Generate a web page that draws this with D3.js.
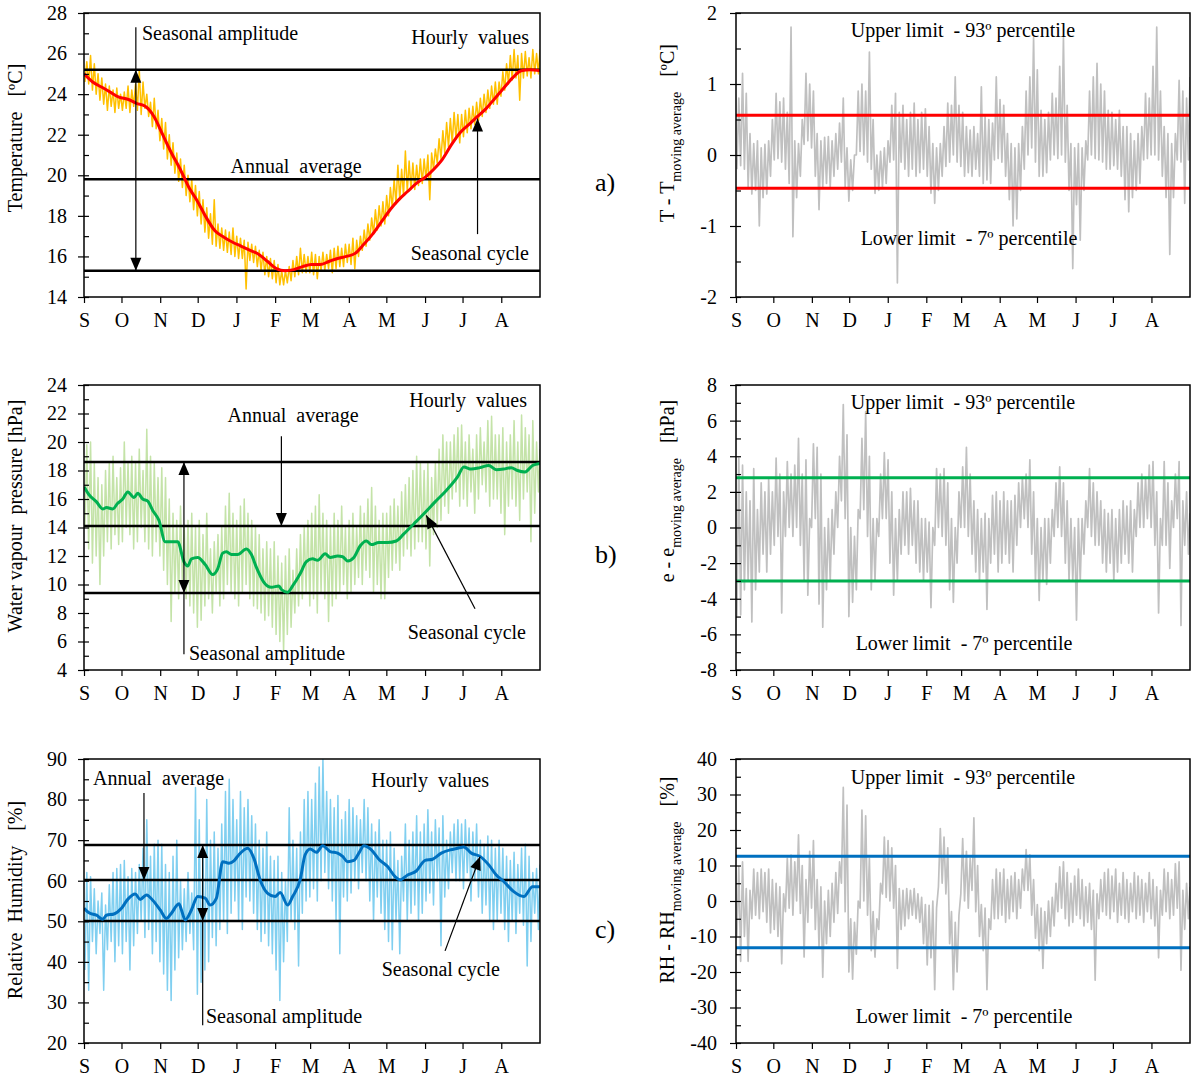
<!DOCTYPE html>
<html>
<head>
<meta charset="utf-8">
<script src="https://cdn.jsdelivr.net/npm/d3@7"></script>
<style>
  body { margin: 0; background: #fff; }
  svg { display: block; font-family: "Liberation Serif", "Times New Roman", serif; }
  text { white-space: pre; }
</style>
</head>
<body>
<svg id="chart" width="1192" height="1081"></svg>
<script>
// ---------------- data ----------------
// Year runs from 1 September to 31 August; hourly records are summarised
// as the low / high of each 3-day period (122 periods).
const monthLabels = ["S", "O", "N", "D", "J", "F", "M", "A", "M", "J", "J", "A"];
const periodDays = 3;

// Air temperature [ºC]
const tempHourlyLow = [
  24.6,24.5,24.2,24.0,23.7,23.5,23.2,23.4,23.1,23.3,
  23.2,23.3,23.1,23.4,23.2,23.0,23.3,22.9,22.4,22.3,
  21.7,21.3,20.8,20.5,20.1,19.7,19.4,19.0,18.7,18.3,
  18.0,17.6,17.2,16.9,16.6,16.5,16.4,16.3,16.2,16.1,16.0,
  15.9,15.9,14.4,15.8,15.7,15.5,15.3,15.1,15.0,14.9,
  14.7,14.6,14.6,14.7,14.8,15.0,15.1,15.2,15.2,
  15.2,15.1,14.9,15.3,15.3,15.4,15.2,15.4,15.5,15.5,
  15.7,15.6,15.4,16.0,16.3,16.5,16.8,17.1,17.3,17.5,
  17.6,18.0,18.4,18.6,18.8,19.0,19.2,19.3,19.3,19.5,
  19.6,19.8,18.8,20.3,20.6,20.8,21.1,21.4,21.6,21.8,
  21.6,21.9,22.1,22.3,22.5,22.7,22.9,23.1,23.3,23.5,
  23.5,23.9,24.2,24.5,24.7,24.8,23.7,24.8,24.9,24.8,25.0,25.0
];
const tempHourlyHigh = [
  25.6,25.9,25.5,25.0,24.8,24.5,24.4,24.2,24.3,24.0,
  24.1,24.4,24.2,24.5,25.2,24.6,24.0,23.6,23.8,23.2,
  22.8,22.6,22.0,21.6,21.1,20.8,20.5,20.0,19.8,19.5,
  19.2,18.8,18.4,18.1,18.8,17.6,17.4,17.3,17.2,17.4,17.0,
  16.9,16.8,16.7,16.6,16.5,16.3,16.2,16.0,15.9,15.8,
  15.6,15.3,15.3,15.5,15.8,16.0,16.4,16.1,16.0,
  16.2,16.1,16.0,16.2,16.1,16.3,16.4,16.5,16.4,16.6,
  16.6,16.9,16.8,17.0,17.3,17.6,17.9,18.3,18.5,18.7,
  19.0,19.4,19.8,20.5,20.3,21.2,20.7,20.6,20.5,20.8,
  20.8,21.0,21.1,21.3,21.8,22.2,22.6,22.8,23.1,23.0,
  23.0,23.2,23.3,23.4,23.6,23.8,24.0,24.2,24.4,24.6,
  24.6,25.1,25.5,25.9,26.2,25.9,26.0,26.1,25.8,26.2,26.0,26.2
];
// seasonal cycle: [day since 1 Sep, value]
const tempCycle = [
  [0,25.0],[7,24.6],[14,24.35],[21,24.1],[28,23.85],[35,23.75],[42,23.55],[49,23.4],
  [56,22.9],[63,22.0],[70,21.1],[77,20.3],[84,19.4],[91,18.7],[98,17.9],[105,17.25],
  [112,16.95],[119,16.7],[126,16.5],[133,16.3],[140,16.1],[147,15.75],[154,15.4],[161,15.3],
  [168,15.35],[175,15.5],[182,15.6],[189,15.6],[196,15.75],[203,15.9],[210,16.0],[217,16.15],
  [224,16.6],[231,17.1],[238,17.7],[245,18.3],[252,18.8],[259,19.2],[266,19.6],[273,19.9],
  [280,20.3],[287,20.8],[294,21.5],[301,22.1],[308,22.5],[315,22.9],[322,23.3],[329,23.8],
  [336,24.3],[343,24.8],[350,25.15],[357,25.2],[365,25.15]
];
const tempLevels = [25.2, 19.8, 15.3];      // seasonal maximum, annual average, seasonal minimum
const tempDevLow = [
  -0.2,-0.15,-0.2,-0.45,-0.55,-0.5,-1.0,-0.6,-0.55,-0.3,
  -0.07,-0.05,-0.1,-0.2,-0.4,-1.15,-0.6,-0.3,0.15,0.2,
  0.1,-0.3,-0.77,-0.45,-0.4,-0.45,-0.3,-0.2,-0.1,-0.45,
  -0.65,-0.5,0.0,0.05,0.0,-0.1,-0.2,-0.54,-0.5,-0.45,-0.4,
  -0.1,-0.07,-1.8,-0.1,-0.2,-0.3,-0.2,-0.3,-0.25,-0.2,
  -0.3,-0.54,-0.68,-0.5,-0.3,-0.16,-0.1,0.0,-0.1,
  -0.16,-0.3,-0.25,-0.3,-0.2,-0.3,-0.4,-0.35,-0.4,-0.07,
  -0.05,-0.1,-0.3,-0.63,-1.0,-0.9,-0.5,-0.2,0.0,0.1,
  -0.1,-0.3,-0.3,-0.25,-0.07,0.0,-0.05,0.0,-0.1,-0.5,
  -1.6,-0.7,-1.2,-0.5,-0.07,0.0,-0.05,-0.07,-0.1,-0.2,
  -0.2,-0.15,-0.2,-0.3,-0.63,-0.8,-0.6,-0.5,-0.4,-0.07,
  -0.05,0.0,0.0,-0.07,-0.3,-0.6,-1.4,-0.6,-0.07,-0.1,-0.68,-0.07
];
const tempDevHigh = [
  0.8,1.15,0.87,0.3,0.16,0.2,0.1,0.15,0.2,0.5,
  0.87,0.75,0.8,0.6,1.8,0.2,0.16,0.5,1.15,1.0,
  0.9,0.3,0.2,0.25,0.26,0.2,0.3,0.45,0.8,0.1,
  -0.07,0.0,0.9,1.0,0.9,1.45,0.5,0.0,0.05,0.1,0.2,
  0.7,0.87,0.6,0.7,0.5,0.6,0.73,0.5,0.6,0.65,
  0.4,0.16,0.1,0.16,0.4,0.73,0.7,1.1,0.7,
  0.6,0.4,0.35,0.4,0.3,0.96,0.54,0.5,0.45,1.1,
  0.78,0.7,0.3,0.16,0.1,0.16,0.4,0.9,1.1,1.65,
  1.2,0.63,0.5,0.6,0.87,0.8,1.25,1.65,0.7,0.16,
  0.1,0.16,0.1,0.2,0.9,1.1,1.29,1.0,0.9,0.63,
  0.6,0.5,0.63,0.4,0.4,0.3,0.2,0.3,0.4,0.87,
  0.8,1.25,1.8,0.9,0.4,0.3,0.16,0.3,1.05,0.9,0.8,1.1
];
const tempLimits = [0.56, -0.47];            // 93º and 7º percentiles

// Water vapour pressure [hPa]
const vapHourlyLow = [
  14.0,12.5,11.5,12.0,10.0,12.0,13.0,12.5,13.5,12.8,
  13.0,14.0,13.5,12.5,13.0,14.0,13.0,12.5,12.0,13.0,
  12.0,11.0,10.0,7.4,9.5,9.0,10.0,9.0,8.5,8.0,
  7.0,7.5,8.5,9.0,8.0,9.5,8.5,9.0,10.0,9.5,9.0,
  8.5,9.5,10.0,9.0,8.5,8.3,8.0,7.5,7.8,7.0,
  6.5,6.0,5.3,6.5,7.0,8.0,8.5,9.0,9.5,
  8.5,9.0,8.0,9.5,9.0,7.4,8.5,9.0,9.5,10.0,
  9.0,9.5,10.0,10.5,10.0,11.0,10.5,9.5,10.0,9.0,
  9.0,10.5,11.0,11.5,11.0,12.0,12.5,12.0,12.5,13.0,
  13.0,12.5,11.3,13.5,14.0,14.5,15.5,15.0,16.0,16.5,
  15.5,16.0,15.5,16.5,15.0,16.0,17.0,16.5,15.5,16.0,
  16.0,15.0,13.5,15.5,16.0,15.5,14.5,16.0,16.5,13.0,15.0,16.5
];
const vapHourlyHigh = [
  19.8,20.0,18.5,17.5,17.0,18.0,18.5,19.0,17.5,18.2,
  20.0,18.5,19.0,18.5,19.5,18.0,20.9,19.0,18.5,17.5,
  18.2,17.5,16.0,15.0,14.5,15.5,14.0,14.5,15.0,14.0,
  14.5,13.5,15.0,12.5,13.0,13.5,14.0,15.5,16.4,15.0,14.5,
  15.5,16.0,15.0,14.5,14.0,13.5,12.5,13.0,12.5,13.0,
  12.0,11.5,12.0,12.5,11.0,12.5,13.5,14.0,14.5,
  15.0,15.5,16.3,15.0,14.5,14.0,15.0,14.5,15.5,14.0,
  14.5,15.0,14.0,15.5,15.0,16.0,16.8,15.5,14.5,15.0,
  15.0,15.5,16.0,15.5,16.5,17.0,17.5,18.0,19.0,18.5,
  18.0,18.5,17.5,18.5,19.5,20.5,20.0,20.0,20.5,21.0,
  21.2,20.0,20.5,19.5,20.5,21.0,20.0,21.5,21.8,20.5,
  20.5,21.0,20.0,20.5,21.5,20.0,21.9,21.0,20.5,21.5,20.0,19.5
];
const vapCycle = [
  [0,16.85],[4,16.3],[10,15.8],[15,15.3],[18,15.4],[23,15.3],[27,15.7],[31,16.0],[35,16.5],
  [40,16.1],[43,16.4],[47,16.0],[51,15.85],[55,15.2],[60,14.5],[65,13.0],[70,13.0],[75,13.0],
  [80,11.6],[83,11.3],[86,11.8],[91,11.9],[97,11.4],[103,10.7],[107,11.1],[111,12.2],[114,12.3],
  [118,12.1],[123,12.1],[130,12.5],[134,12.1],[138,11.2],[144,10.15],[150,9.8],[156,9.9],[158,9.65],
  [163,9.45],[167,9.9],[173,10.75],[178,11.6],[183,11.8],[187,11.7],[193,12.15],[197,11.9],[203,12.0],
  [207,11.95],[211,11.65],[216,11.9],[221,12.7],[226,13.05],[230,12.8],[236,12.95],[243,12.95],[250,13.05],
  [256,13.55],[264,14.25],[273,15.05],[281,15.8],[290,16.6],[299,17.55],[304,18.25],[310,18.1],[317,18.2],
  [324,18.35],[330,18.05],[336,18.1],[342,18.2],[347,18.0],[353,17.9],[359,18.35],[365,18.5]
];
const vapLevels = [18.6, 14.1, 9.4];
const vapDevLow = [
  -5.0,-4.9,-3.5,-3.0,-5.3,-3.5,-2.5,-1.5,-2.5,-1.5,
  -1.0,-0.5,-4.8,-0.5,0.0,-0.5,0.0,-1.0,-3.0,-3.8,
  0.0,0.5,-4.3,-5.6,-3.5,-3.0,-1.5,0.0,1.5,0.5,
  -5.0,-4.2,-3.5,0.5,1.0,-0.5,-3.5,-3.0,-0.5,0.5,0.5,
  -2.0,-3.8,-3.0,-1.5,-1.0,-1.5,-1.0,-2.0,-2.5,-3.0,
  -2.5,-4.5,-1.0,0.0,-0.5,-1.0,-3.5,-4.2,-2.0,
  0.0,0.0,-0.5,-1.5,-2.5,-3.0,-2.5,-4.6,-2.0,-1.5,
  -2.5,-2.0,-1.5,-2.0,-2.5,-1.0,0.0,0.5,0.0,-1.5,
  -3.0,-4.1,-3.0,-3.2,-2.0,-0.5,0.0,-0.5,-2.0,-3.0,
  -3.0,-5.2,-3.0,-1.5,0.0,-0.5,-1.0,-1.0,-2.0,-2.5,
  -2.0,-3.0,-2.5,-2.0,-1.5,-2.0,-2.5,-0.5,0.0,0.0,
  0.5,0.0,-1.0,-4.8,-1.0,-1.0,-2.3,0.0,0.5,-5.5,-1.0,-1.5
];
const vapDevHigh = [
  3.9,3.5,2.0,1.5,3.3,1.0,2.5,2.0,2.7,2.0,
  3.9,3.0,2.0,3.7,3.0,3.5,5.0,3.0,3.8,0.5,
  4.7,4.5,3.0,0.0,0.5,1.0,2.0,4.0,6.9,5.2,
  0.0,-0.5,1.0,5.0,6.5,4.0,0.5,0.5,3.0,4.2,3.8,
  2.0,0.5,1.0,2.0,2.0,2.2,1.5,1.5,0.5,0.5,
  0.3,0.0,3.3,3.0,3.3,2.5,0.5,0.0,2.0,
  3.4,4.5,3.0,1.5,1.0,0.5,0.8,0.5,1.8,2.0,
  1.5,2.0,1.5,1.5,1.8,2.5,2.8,3.0,3.8,2.0,
  0.5,0.0,0.5,0.5,1.0,2.5,3.4,2.5,1.5,0.5,
  0.0,0.5,0.5,1.5,3.3,2.5,2.0,1.5,1.0,0.8,
  1.0,0.5,1.0,1.5,1.2,1.5,1.0,2.5,3.0,2.8,
  3.5,3.7,2.0,0.5,3.7,2.5,1.5,3.0,3.7,1.5,2.0,0.8
];
const vapLimits = [2.8, -3.0];

// Relative humidity [%]
const rhHourlyLow = [
  38,33,45,42,47,33,43,45,40,44,
  42,45,38,44,47,50,46,48,42,45,
  40,37,33,30.5,38,41,43,45,47,43,
  32,35,38,40,46,44,48,50,47,52,55,
  50,48,56,55,52,48,45,47,44,42,
  38,30.5,40,45,50,48,39,52,55,
  56,58,55,60,62,58,55,50,42,56,
  55,57,60,58,62,60,55,50,56,52,
  48,45,43,50,42,55,50,52,54,50,
  52,55,57,54,60,44,56,58,62,60,
  60,58,62,55,60,56,52,54,50,48,
  50,52,48,45,50,47,52,49,39,45,52,48
];
const rhHourlyHigh = [
  62,61,58,55,57,54,59,62,63,64,
  65,61,63,62,64,68,75,66,69,70,
  69,64,62,66,70,60,58,62,57,83,
  75,66,80,70,72,68,74,82,85,80,75,
  82,78,80,76,74,70,68,72,66,65,
  66,62,60,78,70,68,72,80,82,
  80,84,88,90,82,80,78,81,75,77,
  80,78,76,75,80,78,74,72,75,70,
  70,72,68,65,66,74,70,72,76,72,
  74,77.5,72,75,73,76,70,72,74,75,
  74,75,73,72,74,70,69,71,70,68,
  70,68,66,65,67,64,68,69,66,62,63,64
];
const rhCycle = [
  [0,53.2],[4,52.1],[10,51.5],[15,50.5],[18,51.5],[24,51.8],[30,53.2],[35,55.4],[41,56.7],
  [45,55.4],[50,56.5],[55,55.2],[61,52.8],[66,50.7],[70,52.0],[76,54.3],[78,52.8],[81,50.3],
  [86,52.8],[91,56.1],[97,55.7],[101,54.0],[106,55.7],[111,64.7],[116,64.3],[120,64.9],[124,66.4],
  [131,68.0],[136,65.5],[141,60.2],[147,56.9],[153,56.1],[157,57.1],[163,54.0],[167,56.1],[173,60.2],
  [177,66.4],[181,67.8],[186,67.0],[191,68.6],[197,67.2],[203,66.8],[207,66.0],[211,64.7],[216,65.0],
  [220,66.8],[224,68.6],[230,67.6],[236,65.3],[243,63.5],[249,61.0],[253,60.2],[259,61.4],[266,62.4],
  [273,65.0],[279,65.3],[286,66.8],[293,67.6],[299,68.0],[304,68.3],[310,66.8],[317,66.0],[324,63.9],
  [330,61.4],[336,59.8],[344,57.3],[352,56.1],[359,58.5],[365,58.5]
];
const rhLevels = [68.8, 60.2, 50.1];
const rhDevLow = [
  -10,-17,-10,-17,-5,-4,-5,-3,-6,-9,
  -8,-10,-17.7,-3,-2,-4,0,-3.5,-15.8,-6,
  -2,-8,-13,-21.5,-12,-10,-6,-3.5,5,-3,
  -20,-22,-15,-2,0,-4,-14,-15.8,-8,2,1,
  0,-2,-19,-8,-7,-5,-4,-5,-6,-12,
  -18,-16,-25,4,5,2,-12,-25,-20,
  2,0,-2,3,-3,-10,-14,-25,-8,-5,
  -5,-4,-6,-5,-3,-5,-2,3,3,-4,
  -10.5,-14,-19,-12,-10,-7,-3,-2,-5,-7,
  -6,-4,-5,-7,-6,-8,-22.3,-5,-3,-4,
  -5,-3,-6,-4,-5,-6,-3,-5,-4,-6,
  -3,-5,-7,-16,-4,-3,-5,-4,-2,-19.5,-8,-5
];
const rhDevHigh = [
  9.6,11,3.5,3,9,8,9,8,9,6,
  5,4,2,12,12.9,11,18.6,10,6,14,
  17,6,4,0,3,5,8,11,32,27,
  -5,-6,0,25.6,24,12,-3,-5,5,18,17,
  15,10,3.5,3,3.5,3,3.5,2,1,-1,
  -1.2,0,-2,20.4,18,15,-3,-6,-4,
  17.6,14,12,23.4,10,-1,-2,-5,6,9,
  8,9,6,7,8,6,9,14.5,13,6,
  -1,-2,-3,0,1,5,9.6,11,8,5,
  7,9,6,4,5,3,2,6,8,9,
  7,9,5,8,6,5,8,7,6,5,
  8,6,4,3,9,8,6,10.5,11,3,5,4
];
const rhLimits = [12.6, -13.2];

// ---------------- drawing ----------------
const svg = d3.select("#chart");
const start = new Date(Date.UTC(2010, 8, 1));
const end = new Date(Date.UTC(2011, 8, 1));
const dayToDate = d => new Date(start.getTime() + d * 864e5);
const monthTicks = d3.utcMonth.range(start, end);
let clipCount = 0;

function panel(x0, x1, y0, y1, domain, major, minor, padding) {
  const x = d3.scaleUtc().domain([start, end]).range([x0, x1]);
  const y = d3.scaleLinear().domain(domain).range([y1, y0]);
  const id = "plotclip" + (clipCount++);
  svg.append("clipPath").attr("id", id)
    .append("rect").attr("x", x0).attr("y", y0).attr("width", x1 - x0).attr("height", y1 - y0);
  const g = svg.append("g");
  const plot = g.append("g").attr("clip-path", `url(#${id})`);
  return { g, plot, x, y, x0, x1, y0, y1, domain, major, minor, padding };
}

function axes(p) {
  const majors = d3.range(p.domain[0], p.domain[1] + p.major / 2, p.major);
  const minors = d3.range(p.domain[0], p.domain[1] + p.minor / 2, p.minor);
  const style = sel => {
    sel.attr("font-family", null).attr("font-size", 20);
    sel.select(".domain").remove();
    sel.selectAll(".tick line").attr("stroke", "#000").attr("stroke-width", 1.2);
    sel.selectAll(".tick text").attr("fill", "#000");
  };
  p.g.append("g").attr("transform", `translate(${p.x0},0)`)
    .call(d3.axisLeft(p.y).tickValues(majors).tickSize(6).tickSizeOuter(0)
      .tickPadding(p.padding).tickFormat(d => String(+d.toFixed(2))))
    .call(style);
  p.g.append("g").attr("transform", `translate(${p.x0},0)`)
    .call(d3.axisRight(p.y).tickValues(minors).tickSize(5).tickSizeOuter(0).tickFormat(""))
    .call(style);
  p.g.append("g").attr("transform", `translate(0,${p.y1})`)
    .call(d3.axisBottom(p.x).tickValues(monthTicks).tickSize(6).tickSizeOuter(0)
      .tickPadding(10).tickFormat((d, i) => monthLabels[i]))
    .call(style);
  p.g.append("rect")
    .attr("x", p.x0).attr("y", p.y0).attr("width", p.x1 - p.x0).attr("height", p.y1 - p.y0)
    .attr("fill", "none").attr("stroke", "#000").attr("stroke-width", 1.5);
}

// low/high of each period joined into one continuous hourly-style trace
function zigzag(low, high) {
  const pts = [];
  low.forEach((v, i) => {
    pts.push([Math.min(365, i * periodDays + 0.75), v]);
    pts.push([Math.min(365, i * periodDays + 2.25), high[i]]);
  });
  return pts;
}

function trace(p, pts, color, width, curve) {
  const line = d3.line().x(d => p.x(dayToDate(d[0]))).y(d => p.y(d[1]))
    .curve(curve || d3.curveLinear);
  p.plot.append("path")
    .attr("d", line(pts))
    .attr("fill", "none").attr("stroke", color).attr("stroke-width", width)
    .attr("stroke-linejoin", "round");
}

function hline(p, v, color, width) {
  p.plot.append("line")
    .attr("x1", p.x0).attr("x2", p.x1).attr("y1", p.y(v)).attr("y2", p.y(v))
    .attr("stroke", color).attr("stroke-width", width);
}

function head(g, tx, ty, fx, fy) {
  const a = Math.atan2(ty - fy, tx - fx), L = 13, W = 5.5;
  const bx = tx - L * Math.cos(a), by = ty - L * Math.sin(a);
  const px = -Math.sin(a) * W, py = Math.cos(a) * W;
  g.append("path")
    .attr("d", `M${tx},${ty}L${bx + px},${by + py}L${bx - px},${by - py}Z`)
    .attr("fill", "#000");
}

// arrow between two [day, value] points, head at the second point
function arrow(p, from, to) {
  const fx = p.x(dayToDate(from[0])), fy = p.y(from[1]);
  const tx = p.x(dayToDate(to[0])), ty = p.y(to[1]);
  p.g.append("line").attr("x1", fx).attr("y1", fy).attr("x2", tx).attr("y2", ty)
    .attr("stroke", "#000").attr("stroke-width", 1.2);
  head(p.g, tx, ty, fx, fy);
}

// vertical double-headed amplitude arrow
function amplitude(p, day, top, bottom, upper, lower) {
  const x = p.x(dayToDate(day));
  p.g.append("line").attr("x1", x).attr("x2", x).attr("y1", p.y(top)).attr("y2", p.y(bottom))
    .attr("stroke", "#000").attr("stroke-width", 1.2);
  head(p.g, x, p.y(upper), x, p.y(upper) + 20);
  head(p.g, x, p.y(lower), x, p.y(lower) - 20);
}

function label(x, y, str, anchor, size) {
  svg.append("text").attr("x", x).attr("y", y).attr("text-anchor", anchor || "start")
    .attr("font-size", size || 20).attr("fill", "#000").text(str);
}

function yTitle(x, y, main) {
  svg.append("text").attr("transform", `translate(${x},${y}) rotate(-90)`)
    .attr("text-anchor", "middle").attr("font-size", 20).attr("fill", "#000").text(main);
}

function yTitleSub(x, y, a, sub, b) {
  const t = svg.append("text").attr("transform", `translate(${x},${y}) rotate(-90)`)
    .attr("text-anchor", "middle").attr("font-size", 20).attr("fill", "#000");
  t.append("tspan").text(a);
  t.append("tspan").attr("font-size", 14).attr("dy", 7).text(sub);
  t.append("tspan").attr("dy", -7).text(b);
}

const LX0 = 84, LX1 = 540, RX0 = 736, RX1 = 1190;

// ---- a) temperature ----
{
  const p = panel(LX0, LX1, 13, 297, [14, 28], 2, 1, 11);
  trace(p, zigzag(tempHourlyLow, tempHourlyHigh), "#FFC000", 1.5);
  tempLevels.forEach(v => hline(p, v, "#000", 2.5));
  trace(p, tempCycle, "#FF0000", 3, d3.curveMonotoneX);
  axes(p);
  amplitude(p, 41.5, 27.3, 15.3, tempLevels[0], tempLevels[2]);
  arrow(p, [315, 17.1], [315, 22.8]);
  label(142, 40, "Seasonal amplitude");
  label(529, 44, "Hourly  values", "end");
  label(296, 173, "Annual  average", "middle");
  label(529, 260, "Seasonal cycle", "end");
  yTitle(22, 138, "Temperature   [ºC]");

  const q = panel(RX0, RX1, 13, 297, [-2, 2], 1, 0.5, 13);
  trace(q, zigzag(tempDevLow, tempDevHigh), "#C0C0C0", 1.7);
  tempLimits.forEach(v => hline(q, v, "#FF0000", 3));
  axes(q);
  label(963, 37, "Upper limit  - 93º percentile", "middle");
  label(969, 245, "Lower limit  - 7º percentile", "middle");
  yTitleSub(674, 133, "T - T", "moving average", "   [ºC]");
  label(595, 191, "a)", "start", 26);
}

// ---- b) water vapour pressure ----
{
  const p = panel(LX0, LX1, 385, 670, [4, 24], 2, 1, 11);
  trace(p, zigzag(vapHourlyLow, vapHourlyHigh), "#C4E3A8", 1.5);
  vapLevels.forEach(v => hline(p, v, "#000", 2.5));
  trace(p, vapCycle, "#00B050", 3, d3.curveMonotoneX);
  axes(p);
  arrow(p, [158, 20.4], [158, vapLevels[1]]);
  amplitude(p, 80, vapLevels[0], 5.1, vapLevels[0], vapLevels[2]);
  arrow(p, [313, 8.3], [274, 14.85]);
  label(527, 407, "Hourly  values", "end");
  label(293, 422, "Annual  average", "middle");
  label(526, 639, "Seasonal cycle", "end");
  label(189, 660, "Seasonal amplitude");
  yTitle(22, 516, "Water vapour  pressure [hPa]");

  const q = panel(RX0, RX1, 385, 670, [-8, 8], 2, 1, 13);
  trace(q, zigzag(vapDevLow, vapDevHigh), "#C0C0C0", 1.7);
  vapLimits.forEach(v => hline(q, v, "#00B050", 3));
  axes(q);
  label(963, 409, "Upper limit  - 93º percentile", "middle");
  label(964, 650, "Lower limit  - 7º percentile", "middle");
  yTitleSub(674, 491, "e - e", "moving average", "   [hPa]");
  label(595, 563, "b)", "start", 26);
}

// ---- c) relative humidity ----
{
  const p = panel(LX0, LX1, 759, 1043, [20, 90], 10, 5, 11);
  trace(p, zigzag(rhHourlyLow, rhHourlyHigh), "#80CFF0", 1.5);
  rhLevels.forEach(v => hline(p, v, "#000", 2.5));
  trace(p, rhCycle, "#0070C0", 3, d3.curveMonotoneX);
  axes(p);
  arrow(p, [48, 81.6], [48, rhLevels[1]]);
  amplitude(p, 95, rhLevels[0], 24.4, rhLevels[0], rhLevels[2]);
  arrow(p, [289, 42.7], [317, 65.9]);
  label(93, 785, "Annual  average");
  label(489, 787, "Hourly  values", "end");
  label(500, 976, "Seasonal cycle", "end");
  label(206, 1023, "Seasonal amplitude");
  yTitle(22, 900, "Relative  Humidity   [%]");

  const q = panel(RX0, RX1, 759, 1043, [-40, 40], 10, 5, 13);
  trace(q, zigzag(rhDevLow, rhDevHigh), "#C0C0C0", 1.7);
  rhLimits.forEach(v => hline(q, v, "#0070C0", 3));
  axes(q);
  label(963, 784, "Upper limit  - 93º percentile", "middle");
  label(964, 1023, "Lower limit  - 7º percentile", "middle");
  yTitleSub(674, 880, "RH - RH", "moving average", "   [%]");
  label(595, 938, "c)", "start", 26);
}
</script>
</body>
</html>
